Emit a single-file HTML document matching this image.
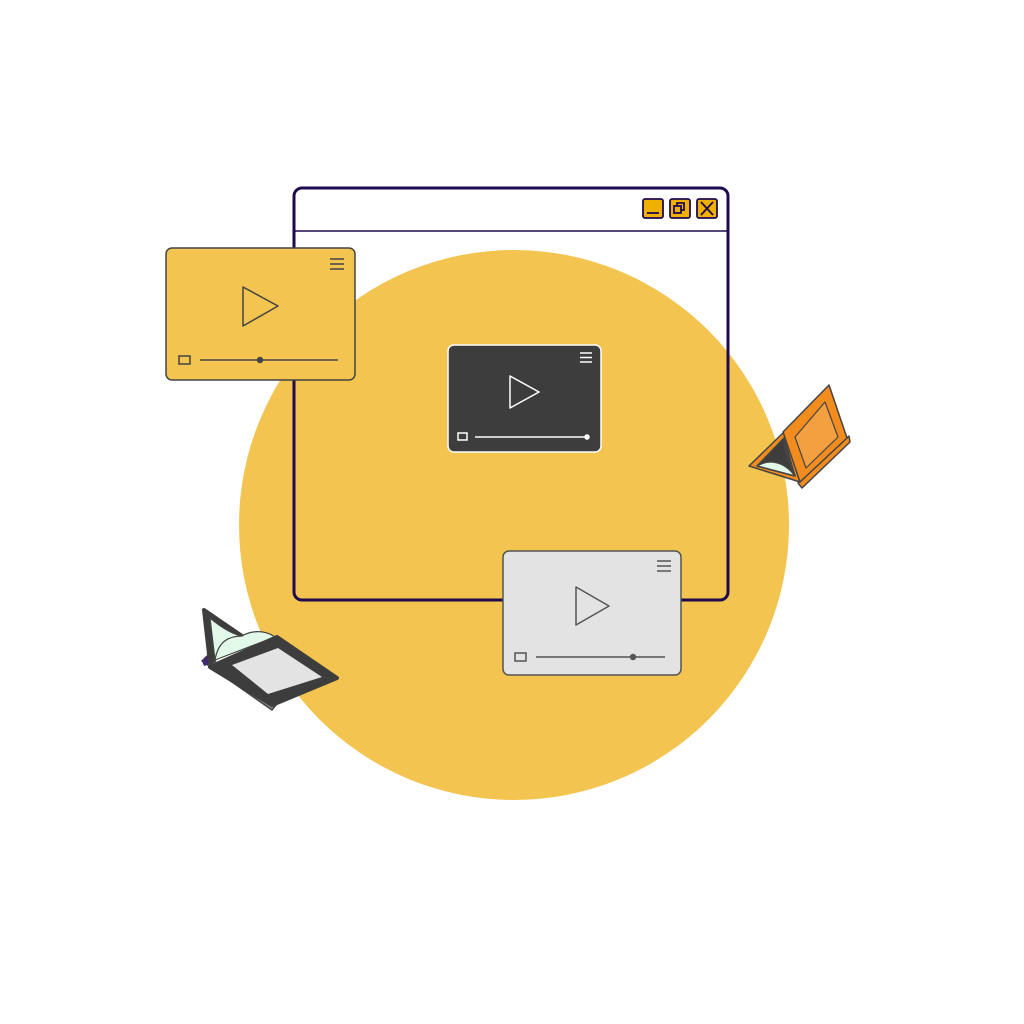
<!DOCTYPE html>
<html><head><meta charset="utf-8"><style>html,body{margin:0;padding:0;background:#fff}svg{display:block}</style></head>
<body>
<svg width="1024" height="1024" viewBox="0 0 1024 1024" xmlns="http://www.w3.org/2000/svg">
<rect width="1024" height="1024" fill="#fff"/>
<circle cx="514" cy="525" r="275" fill="#F3C44F"/>
<rect x="294" y="188" width="434" height="412" rx="8" fill="none" stroke="#1f0a4f" stroke-width="3"/>
<line x1="295" y1="231" x2="727" y2="231" stroke="#1f0a4f" stroke-width="1.5"/>
<g stroke="#1f0a4f" stroke-width="1.8" fill="#F0B000">
<rect x="643" y="199" width="20" height="19" rx="2"/>
<rect x="670" y="199" width="20" height="19" rx="2"/>
<rect x="697" y="199" width="20" height="19" rx="2"/>
<line x1="647" y1="213" x2="659" y2="213"/>
<rect x="674" y="206" width="7" height="7" fill="none"/>
<polyline points="677,206 677,203 684,203 684,210 681,210" fill="none"/>
<line x1="701" y1="202" x2="713" y2="215"/><line x1="713" y1="202" x2="701" y2="215"/>
</g>
<g stroke="#444" stroke-width="1.5" fill="none">
<rect x="166" y="248" width="189" height="132" rx="6" fill="#F3C44F"/>
<path d="M243,287 L243,326 L278,306 Z" stroke-linejoin="round"/>
<line x1="330" y1="259" x2="344" y2="259"/><line x1="330" y1="264" x2="344" y2="264"/><line x1="330" y1="269" x2="344" y2="269"/>
<rect x="179" y="356" width="11" height="8"/>
<line x1="200" y1="360" x2="338" y2="360"/>
<circle cx="260" cy="360" r="2.5" fill="#444"/>
</g>
<g stroke="#fff" stroke-width="1.5" fill="none">
<rect x="448" y="345" width="153" height="107" rx="6" fill="#3d3d3d"/>
<path d="M510,376 L510,408 L539,392 Z" stroke-linejoin="round"/>
<line x1="580" y1="353" x2="592" y2="353"/><line x1="580" y1="357.5" x2="592" y2="357.5"/><line x1="580" y1="362" x2="592" y2="362"/>
<rect x="458" y="433" width="9" height="7"/>
<line x1="475" y1="437" x2="587" y2="437"/>
<circle cx="587" cy="437" r="2" fill="#fff"/>
</g>
<g stroke="#555" stroke-width="1.5" fill="none">
<rect x="503" y="551" width="178" height="124" rx="6" fill="#e3e3e3"/>
<path d="M576,587 L576,625 L609,606 Z" stroke-linejoin="round"/>
<line x1="657" y1="561" x2="671" y2="561"/><line x1="657" y1="566" x2="671" y2="566"/><line x1="657" y1="571" x2="671" y2="571"/>
<rect x="515" y="653" width="11" height="8"/>
<line x1="536" y1="657" x2="665" y2="657"/>
<circle cx="633" cy="657" r="2.5" fill="#555"/>
</g>
<g stroke-linejoin="round">
<path d="M202,661 L272,710 L276,705 L207,656 Z" fill="#888" stroke="#444" stroke-width="1.5"/>
<path d="M202,661 L207,656 L210,664 L204,666 Z" fill="#3a2a70"/>
<path d="M204,610 L242,636 L210,663 Z" fill="#3d3d3d" stroke="#3d3d3d" stroke-width="4"/>
<path d="M210,618 C222,628 232,634 242,636 C252,630 265,630 275,637 L215,660 Z" fill="#e2f9ea" stroke="#444" stroke-width="1.2"/>
<path d="M215,660 C218,642 228,636 242,636" fill="none" stroke="#444" stroke-width="1.2"/>
<path d="M210,667 L277,637 L337,678 L272,705 Z" fill="#3d3d3d" stroke="#3d3d3d" stroke-width="4"/>
<path d="M232,665 L278,648 L322,677 L268,694 Z" fill="#e3e3e3"/>
</g>
<g stroke="#444" stroke-width="1.5" stroke-linejoin="round">
<path d="M798,483 L849,436 L850,442 L802,488 Z" fill="#F28C1E"/>
<path d="M749,466 L784,432 L800,482 Z" fill="#F28C1E"/>
<path d="M757,466 L784,438 L795,476 Z" fill="#3d3d3d"/>
<path d="M757,466 C770,458 785,462 795,476 Z" fill="#e2f9ea"/>
<path d="M784,438 C786,452 790,465 795,476 C788,460 783,450 784,438 Z" fill="#e2f9ea"/>
<path d="M783,432 L829,385 L847,438 L800,482 Z" fill="#F28C1E"/>
<path d="M795,437 L825,402 L838,437 L806,468 Z" fill="#F5A040" stroke-width="1.2"/>
</g>
</svg>
</body></html>
